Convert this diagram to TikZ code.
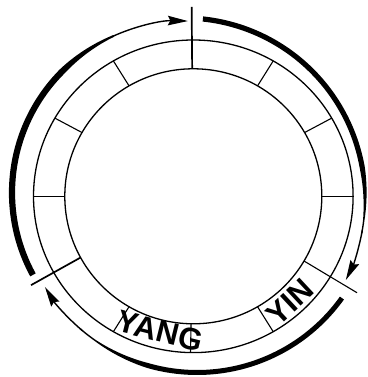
\documentclass[tikz,border=0pt]{standalone}
\usepackage{fontspec}
\newfontfamily\labfont{Liberation Sans}
\usetikzlibrary{arrows.meta}
\begin{document}
\begin{tikzpicture}[x=1pt,y=1pt,
  ring/.style={line width=1.3pt},
  divider/.style={line width=1.1pt},
  longdiv/.style={line width=1.7pt},
  flowtip/.style={line width=1.4pt,-{Stealth[length=20pt,width=9.5pt,inset=2.5pt]}},
  lab/.style={inner sep=0pt,font=\labfont\bfseries\fontsize{31}{31}\selectfont}]
\fill[white] (0,0) rectangle (367,377);
\useasboundingbox (0,0) rectangle (367,377);
\coordinate (C) at (193.3,180.7);
% rings
\draw[ring] (C) ellipse [x radius=128.5, y radius=127.5];
\draw[ring] (C) ellipse [x radius=159.8, y radius=156.3];
% short dividers
\foreach \a in {0,30,60,120,150,180,240,269,300}
  \draw[divider] ([shift={(\a:128.5 and 127.5)}]C) -- ([shift={(\a:159.8 and 156.3)}]C);
% long dividers
\coordinate (t0) at ([shift={(90.5:128.5 and 127.5)}]C);
\coordinate (t1) at ([shift={(90.5:189.5)}]C);
\draw[longdiv] (t0) -- (t1);
\coordinate (l0) at ([shift={(208.7:128.5 and 127.5)}]C);
\coordinate (l1) at ([shift={(208.7:185)}]C);
\draw[longdiv] (l0) -- (l1);
\coordinate (r0) at ([shift={(-30.5:128.5 and 127.5)}]C);
\coordinate (r1) at ([shift={(-30.5:190)}]C);
\draw[divider] (r0) -- (r1);
% left outer arc (thick at bottom, thin with arrow at top)
\coordinate (LC) at (183.7,184.3);
\def\wl{(1.4+4.8*min(1,max(0,(\t-112)/23)))}
\fill plot[domain=208.6:114,samples=90,variable=\t]
  ({183.7+(171.7+0.5*\wl)*cos(\t)},{184.3+(171.7+0.5*\wl)*sin(\t)})
  -- plot[domain=114:208.6,samples=90,variable=\t]
  ({183.7+(171.7-0.5*\wl)*cos(\t)},{184.3+(171.7-0.5*\wl)*sin(\t)}) -- cycle;
\draw[flowtip] ([shift={(115:171.7)}]LC) arc[start angle=115,end angle=88.6,radius=171.7];
% right outer arc
\coordinate (RC) at (184,178);
\def\wr{(1.4+3.8*min(1,max(0,(\t+7)/17)))}
\fill plot[domain=84:-11,samples=90,variable=\t]
  ({184+(181+0.5*\wr)*cos(\t)},{178+(181+0.5*\wr)*sin(\t)})
  -- plot[domain=-11:84,samples=90,variable=\t]
  ({184+(181-0.5*\wr)*cos(\t)},{178+(181-0.5*\wr)*sin(\t)}) -- cycle;
\draw[flowtip] ([shift={(-10:181)}]RC) arc[start angle=-10,end angle=-26.6,radius=181];
% bottom outer arc
\coordinate (BC) at (197.1,182.6);
\def\wb{(1.4+3.6*min(1,max(0,(\t+125)/19)))}
\fill plot[domain=-35.6:-131,samples=90,variable=\t]
  ({197.1+(178.1+0.5*\wb)*cos(\t)},{182.6+(178.1+0.5*\wb)*sin(\t)})
  -- plot[domain=-131:-35.6,samples=90,variable=\t]
  ({197.1+(178.1-0.5*\wb)*cos(\t)},{182.6+(178.1-0.5*\wb)*sin(\t)}) -- cycle;
\draw[flowtip] ([shift={(-130:178.1)}]BC) arc[start angle=-130,end angle=-148.7,radius=178.1];
% labels
\node[lab,rotate=-14] (yang) at (160,46) {YANG};
\node[lab,rotate=43] (yin) at (290,75.3) {YIN};
\end{tikzpicture}
\end{document}
